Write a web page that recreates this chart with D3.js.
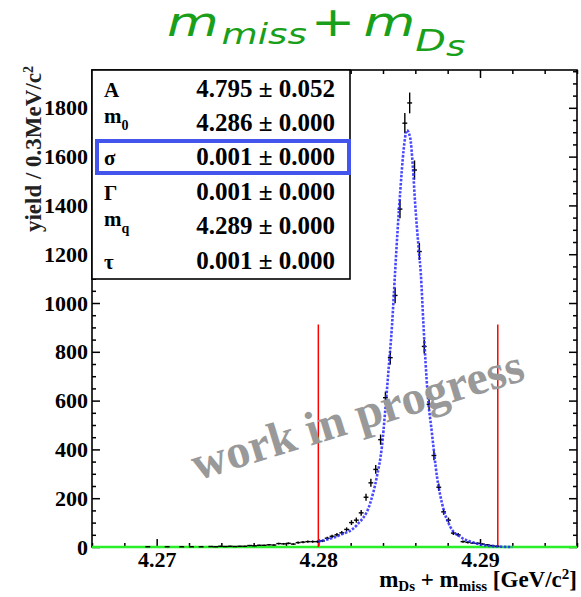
<!DOCTYPE html>
<html>
<head>
<meta charset="utf-8">
<script src="https://cdn.jsdelivr.net/npm/d3@7"></script>
<style>
body { margin: 0; background: #fff; }
</style>
</head>
<body>
<svg id="chart" width="581" height="597"></svg>
<script>
// histogram bins (GeV) and yields per 0.3 MeV
const binCenters = [
  4.26945, 4.27065, 4.27155, 4.27215, 4.27275, 4.27335, 4.27365, 4.27395, 4.27425, 4.27455,
  4.27485, 4.27515, 4.27545, 4.27575, 4.27605, 4.27635, 4.27665, 4.27695, 4.27725, 4.27755,
  4.27785, 4.27815, 4.27845, 4.27875, 4.27905, 4.27935, 4.27965, 4.27995, 4.28025, 4.28055,
  4.28085, 4.28115, 4.28145, 4.28175, 4.28205, 4.28235, 4.28265, 4.28295, 4.28325, 4.28355,
  4.28385, 4.28415, 4.28445, 4.28475, 4.28505, 4.28535, 4.28565, 4.28595, 4.28625, 4.28655,
  4.28685, 4.28715, 4.28745, 4.28775, 4.28805, 4.28835, 4.28865, 4.28895, 4.28925, 4.28955,
  4.28985, 4.29015, 4.29045, 4.29075, 4.29105
];
const binYields = [
  1, 1, 1, 1, 1, 2, 1, 3, 2, 3,
  2, 3, 3, 6, 5, 7, 7, 9, 8, 14,
  13, 15, 12, 18, 20, 22, 22, 22, 25, 36,
  44, 50, 58, 72, 100, 110, 140, 204, 263, 318,
  440, 612, 776, 1031, 1385, 1737, 1820, 1545, 1211, 822,
  585, 375, 245, 144, 110, 57, 50, 22, 19, 16,
  15, 12, 9, 6, 3
];

// fitted curve, sampled from the plot
const fitX = [
  4.28000, 4.28061, 4.28135, 4.28238, 4.28321, 4.28362, 4.28393, 4.28414, 4.28434, 4.28455,
  4.28476, 4.28490, 4.28507, 4.28527, 4.28548, 4.28568, 4.28585, 4.28599, 4.28620, 4.28634,
  4.28651, 4.28676, 4.28703, 4.28734, 4.28765, 4.28816, 4.28878, 4.28960, 4.29064, 4.29200
];
const fitY = [
  22, 32, 49, 90, 180, 288, 410, 560, 724, 901,
  1140, 1296, 1460, 1624, 1708, 1678, 1555, 1406, 1228, 1120,
  901, 629, 465, 288, 179, 83, 42, 18, 4, 0
];

const cutLines = [4.28, 4.2911];
const cutTop = 912;

const xTicks = [4.27, 4.28, 4.29];
const yTicks = [0, 200, 400, 600, 800, 1000, 1200, 1400, 1600, 1800];

const paramNames = ["A", "m", "σ", "Γ", "m", "τ"];
const paramSubs = ["", "0", "", "", "q", ""];
const paramValues = ["4.795", "4.286", "0.001", "0.001", "4.289", "0.001"];
const paramErrors = ["0.052", "0.000", "0.000", "0.000", "0.000", "0.000"];

const svg = d3.select("#chart");
const margin = {top: 70, right: 4, bottom: 50, left: 92};
const width = 581 - margin.left - margin.right;
const height = 597 - margin.top - margin.bottom;
const serif = "'Liberation Serif', 'Times New Roman', serif";

const x = d3.scaleLinear().domain([4.266, 4.296]).range([0, width]);
const y = d3.scaleLinear().domain([0, 1955]).range([height, 0]);

// title, stretched sideways like the slide
const title = svg.append("g")
    .attr("transform", "translate(167,36) scale(1.33,1)")
    .append("text")
    .attr("fill", "#1a9f1a")
    .style("font-family", "'DejaVu Sans', sans-serif")
    .style("font-style", "italic");
title.append("tspan").attr("font-size", 40).text("m");
title.append("tspan").attr("font-size", 28).attr("dy", 8).attr("dx", 2).text("miss");
title.append("tspan").attr("font-size", 40).attr("dy", -8).attr("dx", 3).style("font-style", "normal").text("+");
title.append("tspan").attr("font-size", 40).attr("dx", 6).text("m");
title.append("tspan").attr("font-size", 30).attr("dy", 15).text("D");
title.append("tspan").attr("font-size", 28).attr("dy", 5).text("s");

const g = svg.append("g").attr("transform", `translate(${margin.left},${margin.top})`);

// ticks, all pointing inwards like ROOT
const yMinor = d3.range(0, 1956, 50).filter(v => v % 200 !== 0);
const xMinor = d3.range(0, 16).map(i => +(4.266 + 0.002 * i).toFixed(3)).filter(v => !xTicks.includes(v));

function tickStyle(sel) {
  sel.select(".domain").remove();
  sel.selectAll("line").attr("stroke", "#000").attr("stroke-width", 1.5);
  sel.selectAll("text")
    .style("font-family", serif).style("font-weight", "bold")
    .style("font-size", "22px").attr("fill", "#000");
}

g.append("g").call(d3.axisLeft(y).tickValues(yTicks).tickSize(-8).tickPadding(4).tickFormat(d3.format("d"))).call(tickStyle);
g.append("g").call(d3.axisLeft(y).tickValues(yMinor).tickSize(-4).tickFormat("")).call(tickStyle);
g.append("g").attr("transform", `translate(${width},0)`)
    .call(d3.axisRight(y).tickValues(yTicks).tickSize(-8).tickFormat("")).call(tickStyle);
g.append("g").attr("transform", `translate(${width},0)`)
    .call(d3.axisRight(y).tickValues(yMinor).tickSize(-4).tickFormat("")).call(tickStyle);

g.append("g").attr("transform", `translate(0,${height})`)
    .call(d3.axisBottom(x).tickValues(xTicks).tickSize(-8).tickPadding(4).tickFormat(d3.format(".2f"))).call(tickStyle);
g.append("g").attr("transform", `translate(0,${height})`)
    .call(d3.axisBottom(x).tickValues(xMinor).tickSize(-4).tickFormat("")).call(tickStyle);
g.append("g")
    .call(d3.axisTop(x).tickValues(xTicks).tickSize(-8).tickFormat("")).call(tickStyle);
g.append("g")
    .call(d3.axisTop(x).tickValues(xMinor).tickSize(-4).tickFormat("")).call(tickStyle);

// frame
g.append("rect")
    .attr("width", width).attr("height", height)
    .attr("fill", "none").attr("stroke", "#000").attr("stroke-width", 1.6);

// zero line (green)
g.append("line")
    .attr("x1", 0).attr("x2", width)
    .attr("y1", y(0)).attr("y2", y(0))
    .attr("stroke", "#2aee2a").attr("stroke-width", 2.5);

// cut lines
g.selectAll(".cut").data(cutLines).enter().append("line")
    .attr("class", "cut")
    .attr("x1", d => x(d)).attr("x2", d => x(d))
    .attr("y1", y(0)).attr("y2", y(cutTop))
    .attr("stroke", "#ff0000").attr("stroke-width", 1.5);

// watermark
svg.append("text")
    .attr("transform", "translate(362,430) rotate(-17)")
    .attr("text-anchor", "middle")
    .attr("fill", "#999")
    .style("font-family", serif).style("font-weight", "bold")
    .style("font-size", "48px")
    .text("work in progress");

// data points with error bars
const halfBin = 0.00015;
const pts = g.selectAll(".pt").data(binCenters.map((c, i) => ({c, v: binYields[i]})))
    .enter().append("g").attr("class", "pt");
pts.append("line")
    .attr("x1", d => x(d.c)).attr("x2", d => x(d.c))
    .attr("y1", d => y(d.v + Math.sqrt(d.v))).attr("y2", d => y(Math.max(0, d.v - Math.sqrt(d.v))))
    .attr("stroke", "#000").attr("stroke-width", 1.4);
pts.append("line")
    .attr("x1", d => x(d.c - halfBin)).attr("x2", d => x(d.c + halfBin))
    .attr("y1", d => y(d.v)).attr("y2", d => y(d.v))
    .attr("stroke", "#000").attr("stroke-width", 1.4);

// fit curve, blue dotted
const line = d3.line().x(d => x(d[0])).y(d => y(d[1])).curve(d3.curveMonotoneX);
g.append("path")
    .datum(fitX.map((v, i) => [v, fitY[i]]))
    .attr("d", line)
    .attr("fill", "none")
    .attr("stroke", "#2828ff").attr("stroke-opacity", 0.85)
    .attr("stroke-width", 2.6).attr("stroke-dasharray", "2.5,1.5");

// parameter box
g.append("rect")
    .attr("x", 0).attr("y", 0).attr("width", 258).attr("height", 209)
    .attr("fill", "#fff").attr("stroke", "#000").attr("stroke-width", 1.6);

paramNames.forEach((name, i) => {
  const base = 26.5 + 34.4 * i;
  const lab = g.append("text")
      .attr("x", 12).attr("y", paramSubs[i] ? base - 8 : base)
      .style("font-family", serif).style("font-weight", "bold")
      .style("font-size", "21px").attr("fill", "#000");
  lab.append("tspan").text(name);
  if (paramSubs[i]) {
    lab.append("tspan").attr("dy", 7).style("font-size", "14px").text(paramSubs[i]);
  }
  g.append("text")
      .attr("x", 243).attr("y", base)
      .attr("text-anchor", "end")
      .style("font-family", serif).style("font-weight", "bold")
      .style("font-size", "25px").attr("fill", "#000")
      .text(paramValues[i] + " ± " + paramErrors[i]);
});

// highlight around sigma row
g.append("rect")
    .attr("x", 5).attr("y", 71).attr("width", 252).attr("height", 32)
    .attr("fill", "none").attr("stroke", "#4455ee").attr("stroke-width", 4);

// axis titles
const ylab = svg.append("text")
    .attr("transform", "translate(41,66) rotate(-90)")
    .attr("text-anchor", "end")
    .style("font-family", serif).style("font-weight", "bold")
    .style("font-size", "23px").attr("fill", "#222");
ylab.append("tspan").text("yield / 0.3MeV/c");
ylab.append("tspan").attr("dy", -8).style("font-size", "14px").text("2");

const xlab = svg.append("text")
    .attr("x", 577).attr("y", 587)
    .attr("text-anchor", "end")
    .style("font-family", serif).style("font-weight", "bold")
    .style("font-size", "23px").attr("fill", "#000");
xlab.append("tspan").text("m");
xlab.append("tspan").attr("dy", 4).style("font-size", "15px").text("Ds");
xlab.append("tspan").attr("dy", -4).text(" + m");
xlab.append("tspan").attr("dy", 4).style("font-size", "15px").text("miss");
xlab.append("tspan").attr("dy", -4).text(" [GeV/c");
xlab.append("tspan").attr("dy", -8).style("font-size", "15px").text("2");
xlab.append("tspan").attr("dy", 8).text("]");
</script>
</body>
</html>
